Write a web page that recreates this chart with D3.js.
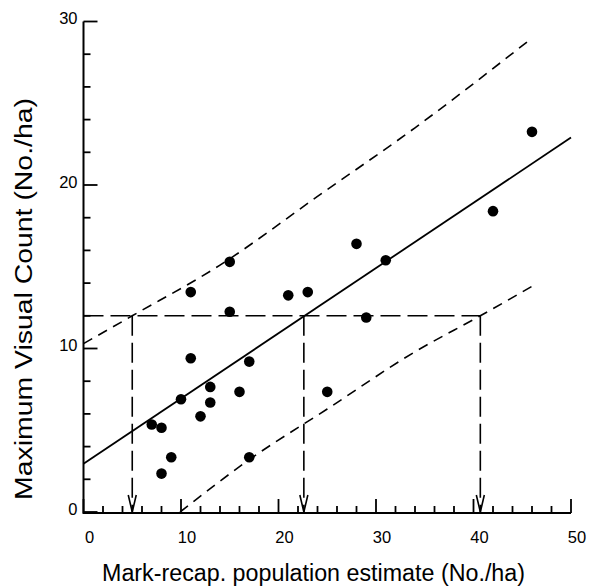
<!DOCTYPE html>
<html>
<head>
<meta charset="utf-8">
<script src="https://cdn.jsdelivr.net/npm/d3@7"></script>
<style>
  body { margin: 0; background: #fff; }
  svg { display: block; font-family: "Liberation Sans", Arial, sans-serif; }
  .tick-label { font-size: 16.5px; fill: #000; }
</style>
</head>
<body>
<div id="chart"></div>
<script>
// values
const popEstimate = [46, 42, 28, 31, 15, 11, 21, 23, 15, 29, 11, 17, 13, 16, 10, 13, 12, 7, 8, 9, 17, 25, 8];
const visualCount = [23.25, 18.4, 16.4, 15.4, 15.3, 13.45, 13.25, 13.45, 12.25, 11.9, 9.4, 9.2, 7.65, 7.35, 6.9, 6.7, 5.85, 5.35, 5.15, 3.35, 3.35, 7.35, 2.35];

const fitLine = [[0, 2.95], [50, 22.9]];
const upperBand = [[0, 10.3], [5, 12], [14, 15.1], [24, 19.3], [34, 23.5], [45.6, 28.8]];
const lowerBand = [[9.9, 0], [17, 3.2], [25, 6.3], [34, 9.8], [40.7, 12], [46, 13.8]];

const guideY = 12;
const guideX = [5.0, 22.6, 40.7];

const xMajor = [0, 10, 20, 30, 40, 50];
const xMinor = [2, 4, 6, 8, 12, 14, 16, 18, 22, 24, 26, 28, 32, 34, 36, 38, 42, 44, 46, 48];
const yMajor = [0, 10, 20, 30];
const yMinor = [2, 4, 6, 8, 12, 14, 16, 18, 22, 24, 26, 28];

const xTitle = 'Mark-recap. population estimate (No./ha)';
const yTitle = 'Maximum Visual Count (No./ha)';

const W = 593, H = 586;

const svg = d3.select('#chart').append('svg')
  .attr('width', W)
  .attr('height', H);

const x = d3.scaleLinear().domain([0, 50]).range([83.5, 571]);
const y = d3.scaleLinear().domain([0, 30]).range([512, 21.5]);
const axisY = 513;
const x0 = x(0);

// axes lines
const axes = svg.append('g')
  .attr('stroke', '#000')
  .attr('fill', 'none');

axes.append('path')
  .attr('stroke-width', 2)
  .attr('d', `M${x0},${y(30)}V${axisY}H${x(50)}`);

// ticks point inward: long on majors, short on minors
axes.selectAll('.xtick')
  .data(xMajor.map(v => [v, 14]).concat(xMinor.map(v => [v, 7])))
  .enter()
  .append('line')
    .attr('class', 'xtick')
    .attr('stroke-width', 1.8)
    .attr('x1', d => x(d[0])).attr('x2', d => x(d[0]))
    .attr('y1', axisY).attr('y2', d => axisY - d[1]);

axes.selectAll('.ytick')
  .data(yMajor.map(v => [v, 14]).concat(yMinor.map(v => [v, 7])))
  .enter()
  .append('line')
    .attr('class', 'ytick')
    .attr('stroke-width', 1.8)
    .attr('x1', x0).attr('x2', d => x0 + d[1])
    .attr('y1', d => y(d[0])).attr('y2', d => y(d[0]));

svg.selectAll('.xlabel')
  .data(xMajor)
  .enter()
  .append('text')
    .attr('class', 'tick-label')
    .attr('x', d => x(d) + 6)
    .attr('y', axisY + 30)
    .attr('text-anchor', 'middle')
    .text(d => d);

svg.selectAll('.ylabel')
  .data(yMajor)
  .enter()
  .append('text')
    .attr('class', 'tick-label')
    .attr('x', x0 - 6)
    .attr('y', d => y(d))
    .attr('dy', '0.18em')
    .attr('text-anchor', 'end')
    .text(d => d);

// guide lines at y = 12
const guides = svg.append('g')
  .attr('fill', 'none')
  .attr('stroke', '#000')
  .attr('stroke-width', 1.6)
  .attr('stroke-dasharray', '20,7');

guides.append('line')
  .attr('x1', x0).attr('x2', x(d3.max(guideX)))
  .attr('y1', y(guideY)).attr('y2', y(guideY));

guides.selectAll('.vguide')
  .data(guideX)
  .enter()
  .append('line')
    .attr('class', 'vguide')
    .attr('x1', d => x(d)).attr('x2', d => x(d))
    .attr('y1', y(guideY)).attr('y2', y(0));

// open arrowheads where the guides hit the axis
svg.selectAll('.arrow')
  .data(guideX)
  .enter()
  .append('path')
    .attr('class', 'arrow')
    .attr('fill', 'none')
    .attr('stroke', '#000')
    .attr('stroke-width', 1.6)
    .attr('d', d => `M${x(d) - 4},${y(0) - 17}L${x(d)},${y(0)}L${x(d) + 4},${y(0) - 17}`);

// prediction band and fitted line
const line = d3.line()
  .x(d => x(d[0]))
  .y(d => y(d[1]));
const band = d3.line()
  .x(d => x(d[0]))
  .y(d => y(d[1]))
  .curve(d3.curveMonotoneX);

svg.selectAll('.band')
  .data([upperBand, lowerBand])
  .enter()
  .append('path')
    .attr('class', 'band')
    .attr('fill', 'none')
    .attr('stroke', '#000')
    .attr('stroke-width', 1.6)
    .attr('stroke-dasharray', '10,7')
    .attr('d', band);

svg.append('path')
  .datum(fitLine)
  .attr('fill', 'none')
  .attr('stroke', '#000')
  .attr('stroke-width', 1.8)
  .attr('d', line);

// points
svg.selectAll('.dot')
  .data(popEstimate.map((v, i) => [v, visualCount[i]]))
  .enter()
  .append('circle')
    .attr('class', 'dot')
    .attr('cx', d => x(d[0]))
    .attr('cy', d => y(d[1]))
    .attr('r', 5.3)
    .attr('fill', '#000');

// titles
svg.append('text')
  .attr('x', 313.5)
  .attr('y', 581)
  .attr('text-anchor', 'middle')
  .attr('font-size', 23)
  .attr('textLength', 423)
  .attr('lengthAdjust', 'spacingAndGlyphs')
  .text(xTitle);

svg.append('text')
  .attr('transform', 'translate(32,299) rotate(-90)')
  .attr('text-anchor', 'middle')
  .attr('font-size', 23)
  .attr('textLength', 402)
  .attr('lengthAdjust', 'spacingAndGlyphs')
  .text(yTitle);
</script>
</body>
</html>
